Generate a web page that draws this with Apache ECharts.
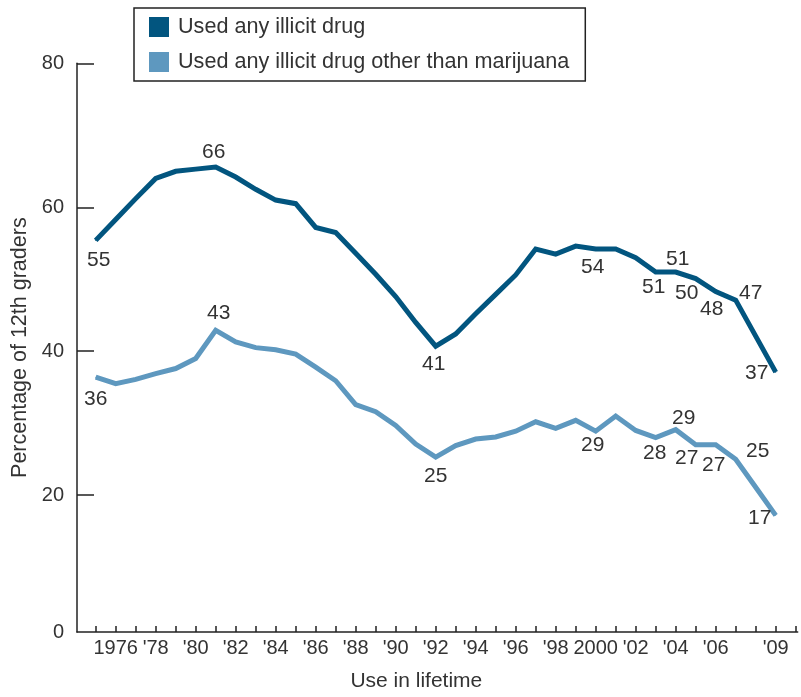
<!DOCTYPE html>
<html>
<head>
<meta charset="utf-8">
<title>Use in lifetime, 12th graders</title>
<script src="https://cdn.jsdelivr.net/npm/echarts@6/dist/echarts.min.js"></script>
<style>
  html, body { margin: 0; padding: 0; background: #ffffff; }
  #chart { width: 801px; height: 697px; }
</style>
</head>
<body>
<div id="chart"></div>
<script>
// Survey years, one point per year
const years = [1975, 1976, 1977, 1978, 1979, 1980, 1981, 1982, 1983, 1984,
  1985, 1986, 1987, 1988, 1989, 1990, 1991, 1992, 1993, 1994,
  1995, 1996, 1997, 1998, 1999, 2000, 2001, 2002, 2003, 2004,
  2005, 2006, 2007, 2008, 2009];

// Percentage of 12th graders who ever used any illicit drug
const anyDrug = [55.4, 58.3, 61.2, 64.0, 65.0, 65.3, 65.6, 64.2, 62.5, 61.0,
  60.5, 57.2, 56.5, 53.6, 50.7, 47.6, 44.0, 40.7, 42.4, 45.2,
  47.9, 50.6, 54.2, 53.5, 54.6, 54.2, 54.2, 53.0, 51.0, 51.0,
  50.1, 48.3, 47.1, 42.1, 37.1];

// Percentage who ever used any illicit drug other than marijuana
const otherDrug = [36.4, 35.5, 36.1, 36.9, 37.6, 39.0, 42.9, 41.3, 40.5, 40.2,
  39.6, 37.8, 35.9, 32.6, 31.6, 29.7, 27.1, 25.3, 26.9, 27.8,
  28.1, 28.9, 30.2, 29.3, 30.4, 28.9, 31.0, 29.0, 28.0, 29.1,
  27.0, 27.0, 25.0, 21.1, 17.2];

// Horizontal axis tick labels and the years they sit on
const xLabelYears = [1976, 1978, 1980, 1982, 1984, 1986, 1988, 1990, 1992, 1994,
  1996, 1998, 2000, 2002, 2004, 2006, 2009];
const xLabels = ['1976', "'78", "'80", "'82", "'84", "'86", "'88", "'90", "'92", "'94",
  "'96", "'98", '2000', "'02", "'04", "'06", "'09"];

// Vertical axis tick labels
const yTickValues = [0, 20, 40, 60, 80];

// The horizontal axis line runs just above the zero line; its label reads 0
const Y_FLOOR = 1;

// Yearly ticks run from the first survey year through 2010
const xTickYears = [];
for (let y = 1975; y <= 2010; y++) xTickYears.push(y);

// Which years carry a value label, and where it sits relative to the point [dx, dy]
const anyDrugLabelAt = {
  1975: [3, 20], 1981: [-2, -15], 1992: [-2, 18], 2000: [-3, 18],
  2003: [-2, 15], 2004: [2, -13], 2005: [-9, 15], 2006: [-4, 18],
  2007: [15, -7], 2009: [-19, 1]
};
const otherDrugLabelAt = {
  1975: [0, 22], 1981: [3, -17], 1992: [0, 19], 2000: [-3, 14],
  2003: [-1, 16], 2004: [8, -12], 2005: [-9, 13], 2006: [-2, 20],
  2007: [22, -8], 2009: [-16, 3]
};

const FONT = '"Liberation Sans", Arial, Helvetica, sans-serif';
const TEXT = '#333333';
const AXIS = '#222222';
const DARK = '#02557f';
const LIGHT = '#5e98bf';

function buildPoints(values, labelAt) {
  return values.map((v, i) => {
    const yr = years[i];
    const off = labelAt[yr];
    if (!off) return [yr, v];
    return {
      value: [yr, v],
      label: { show: true, position: 'inside', offset: off }
    };
  });
}

function lineSeries(name, values, labelAt, color) {
  return {
    name: name,
    type: 'line',
    data: buildPoints(values, labelAt),
    symbol: 'circle',
    symbolSize: 1,
    showSymbol: true,
    itemStyle: { color: color },
    lineStyle: { color: color, width: 5, join: 'miter' },
    label: {
      show: false,
      formatter: p => String(Math.round(p.value[1])),
      fontFamily: FONT,
      fontSize: 21,
      color: TEXT
    },
    z: 3
  };
}

const chart = echarts.init(document.getElementById('chart'), null, { renderer: 'canvas' });

chart.setOption({
  animation: false,
  backgroundColor: '#ffffff',
  textStyle: { fontFamily: FONT, color: TEXT },
  grid: { left: 77, right: 3.3, top: 63.3, bottom: 61, containLabel: false },
  legend: {
    orient: 'vertical',
    left: 134,
    top: 8,
    icon: 'rect',
    itemWidth: 20,
    itemHeight: 20,
    itemGap: 13,
    padding: [8, 16, 8, 15],
    borderColor: '#222222',
    borderWidth: 1.5,
    selectedMode: false,
    textStyle: { fontFamily: FONT, fontSize: 21.6, color: TEXT, padding: [2, 0, 0, 4] },
    data: ['Used any illicit drug', 'Used any illicit drug other than marijuana']
  },
  xAxis: {
    type: 'value',
    min: 1974.065,
    max: 2010.1,
    name: 'Use in lifetime',
    nameLocation: 'middle',
    nameGap: 39,
    nameTextStyle: { fontFamily: FONT, fontSize: 21, color: TEXT, padding: [0, 42, 0, 0] },
    axisLine: { show: true, onZero: false, lineStyle: { color: AXIS, width: 1.5 } },
    axisTick: {
      show: true, inside: true, length: 6,
      customValues: xTickYears,
      lineStyle: { color: AXIS, width: 1.5 }
    },
    axisLabel: {
      customValues: xLabelYears,
      formatter: v => xLabels[xLabelYears.indexOf(Math.round(v))] || '',
      fontFamily: FONT, fontSize: 20, color: TEXT, margin: 6
    },
    splitLine: { show: false }
  },
  yAxis: {
    type: 'value',
    min: Y_FLOOR,
    max: 80,
    name: 'Percentage of 12th graders',
    nameLocation: 'middle',
    nameGap: 45,
    nameTextStyle: { fontFamily: FONT, fontSize: 21.5, color: TEXT },
    axisLine: { show: true, lineStyle: { color: AXIS, width: 1.5 } },
    axisTick: {
      show: true, inside: true, length: 17,
      customValues: yTickValues.filter(v => v > 0),
      lineStyle: { color: AXIS, width: 1.5 }
    },
    axisLabel: {
      customValues: yTickValues.map(v => Math.max(v, Y_FLOOR)),
      formatter: v => String(v <= Y_FLOOR ? yTickValues[0] : Math.round(v)),
      fontFamily: FONT, fontSize: 20, color: TEXT, margin: 13
    },
    splitLine: { show: false }
  },
  series: [
    lineSeries('Used any illicit drug', anyDrug, anyDrugLabelAt, DARK),
    lineSeries('Used any illicit drug other than marijuana', otherDrug, otherDrugLabelAt, LIGHT)
  ]
});
</script>
</body>
</html>
